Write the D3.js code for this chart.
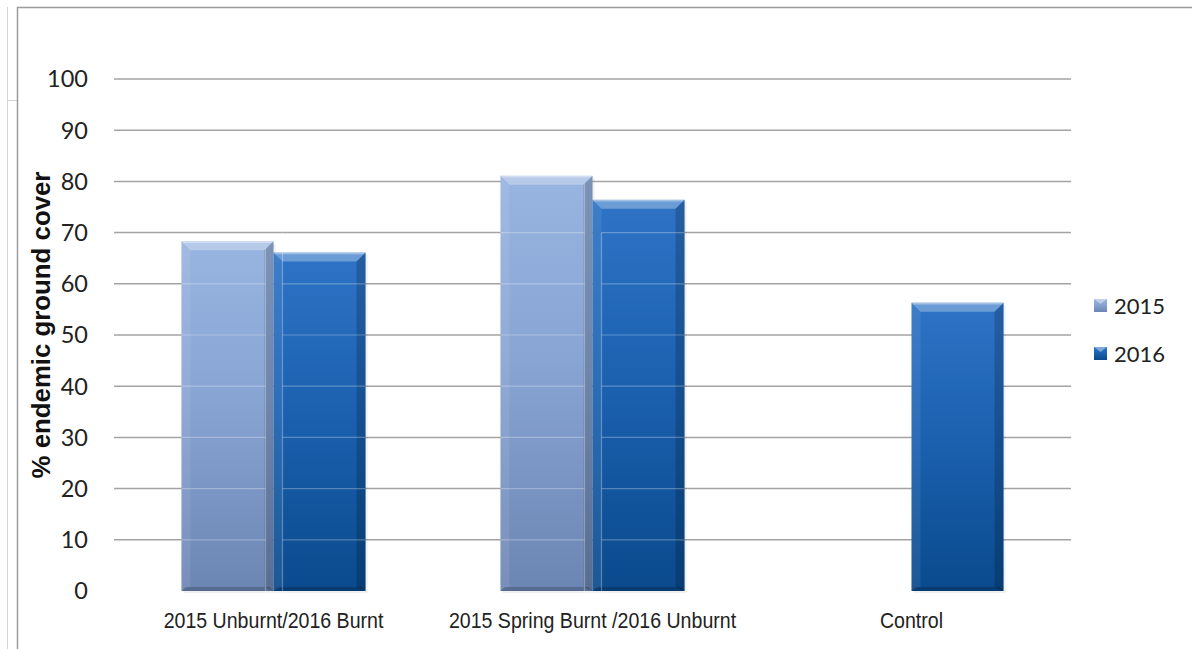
<!DOCTYPE html>
<html>
<head>
<meta charset="utf-8">
<script src="https://cdn.jsdelivr.net/npm/d3@7"></script>
<style>
  body { margin: 0; background: #fff; }
  svg { display: block; }
</style>
</head>
<body>
<svg width="1192" height="649"></svg>
<script>
const width = 1192;
const height = 649;

// data
const categories = ["2015 Unburnt/2016 Burnt", "2015 Spring Burnt /2016 Unburnt", "Control"];
const seriesNames = ["2015", "2016"];
const values2015 = [68.3, 81.1, null];
const values2016 = [66.1, 76.4, 56.3];
const yTicks = [0, 10, 20, 30, 40, 50, 60, 70, 80, 90, 100];

const svg = d3.select("svg")
    .attr("viewBox", [0, 0, width, height]);

const defs = svg.append("defs");

// gradients for the two series
const grads = {
    "2015": ["#98b4e0", "#88a4d3", "#6c86b3"],
    "2016": ["#2e73c5", "#1c62b1", "#0a4a8d"]
};
Object.entries(grads).forEach(([k, c]) => {
    const g = defs.append("linearGradient")
        .attr("id", "g" + k)
        .attr("x1", 0).attr("y1", 0).attr("x2", 0).attr("y2", 1);
    g.append("stop").attr("offset", "0%").attr("stop-color", c[0]);
    g.append("stop").attr("offset", "45%").attr("stop-color", c[1]);
    g.append("stop").attr("offset", "100%").attr("stop-color", c[2]);
});

// frame
svg.append("line").attr("x1", 7.5).attr("x2", 7.5).attr("y1", 7).attr("y2", height)
    .attr("stroke", "#d4d4d4").attr("stroke-width", 1);
svg.append("line").attr("x1", 7).attr("x2", 17).attr("y1", 100.5).attr("y2", 100.5)
    .attr("stroke", "#d4d4d4").attr("stroke-width", 1);
svg.append("line").attr("x1", 17.5).attr("x2", 17.5).attr("y1", 7).attr("y2", height)
    .attr("stroke", "#9c9c9c").attr("stroke-width", 1.5);
svg.append("line").attr("x1", 17).attr("x2", width).attr("y1", 7.5).attr("y2", 7.5)
    .attr("stroke", "#9c9c9c").attr("stroke-width", 1.5);

const x0 = d3.scaleBand()
    .domain(categories)
    .range([114, 1071])
    .paddingInner(0.423)
    .paddingOuter(0.2115);

const x1 = d3.scaleBand()
    .domain(seriesNames)
    .range([0, x0.bandwidth()]);

const y = d3.scaleLinear()
    .domain([0, 100])
    .range([591, 79]);

// gridlines
svg.append("g")
    .selectAll("line")
    .data(yTicks.slice(1))
    .join("line")
    .attr("x1", 114).attr("x2", 1071)
    .attr("y1", d => y(d)).attr("y2", d => y(d))
    .attr("stroke", "#a3a3a3")
    .attr("stroke-width", 1.5);

// y tick labels
svg.append("g")
    .selectAll("text")
    .data(yTicks)
    .join("text")
    .attr("x", 88)
    .attr("y", d => y(d))
    .attr("dy", "0.36em")
    .attr("text-anchor", "end")
    .attr("font-family", "Lato, 'Open Sans', sans-serif")
    .attr("font-size", 23.5)
    .attr("fill", "#222")
    .text(d => d);

// y axis title
svg.append("text")
    .attr("transform", "translate(50,325) rotate(-90)")
    .attr("text-anchor", "middle")
    .attr("font-family", "'Liberation Sans', Arial, sans-serif")
    .attr("font-weight", "bold")
    .attr("font-size", 25.8)
    .attr("fill", "#111")
    .text("% endemic ground cover");

// bar records
const bars = [];
categories.forEach((c, i) => {
    [values2015[i], values2016[i]].forEach((v, j) => {
        if (v == null) return;
        bars.push({
            cat: c, series: seriesNames[j], value: v,
            pair: values2015[i] != null && values2016[i] != null,
            x: x0(c) + x1(seriesNames[j]), w: x1.bandwidth(),
            top: y(v), bottom: y(0)
        });
    });
});

const bevel = 9;
const barG = svg.append("g");
bars.forEach(b => {
    const g = barG.append("g");
    const xl = b.x, xr = b.x + b.w, yt = b.top, yb = b.bottom;
    // soft shadow
    g.append("rect").attr("x", xl + 2).attr("y", yt + 2).attr("width", b.w).attr("height", yb - yt)
        .attr("fill", "#000").attr("opacity", 0.06);
    g.append("rect").attr("x", xl).attr("y", yt).attr("width", b.w).attr("height", yb - yt)
        .attr("fill", `url(#g${b.series})`);
    // bevels
    g.append("path")
        .attr("d", `M${xl},${yt}L${xr},${yt}L${xr - bevel},${yt + bevel}L${xl + bevel},${yt + bevel}Z`)
        .attr("fill", "#fff").attr("opacity", 0.3);
    g.append("line").attr("x1", xl + 1).attr("x2", xr - 1).attr("y1", yt + 1).attr("y2", yt + 1)
        .attr("stroke", "#fff").attr("stroke-opacity", 0.35).attr("stroke-width", 1.5);
    g.append("path")
        .attr("d", `M${xl},${yt}L${xl + bevel},${yt + bevel}L${xl + bevel},${yb - 4}L${xl},${yb}Z`)
        .attr("fill", "#fff").attr("opacity", 0.08);
    g.append("path")
        .attr("d", `M${xr},${yt}L${xr - bevel},${yt + bevel}L${xr - bevel},${yb - 4}L${xr},${yb}Z`)
        .attr("fill", "#000").attr("opacity", 0.18);
    g.append("path")
        .attr("d", `M${xl},${yb}L${xr},${yb}L${xr - 4},${yb - 4}L${xl + 4},${yb - 4}Z`)
        .attr("fill", "#000").attr("opacity", 0.2);
    // faint inner grid showing through paired bars
    if (b.pair) {
        const gx0 = b.series === "2015" ? xl : xl + 9;
        const gx1 = b.series === "2015" ? xr - 8 : xr;
        yTicks.filter(t => t > 0 && y(t) > yt + bevel).forEach(t => {
            g.append("line").attr("x1", gx0).attr("x2", gx1)
                .attr("y1", y(t)).attr("y2", y(t))
                .attr("stroke", "#fff").attr("stroke-opacity", 0.28).attr("stroke-width", 1.2);
        });
        const vx = b.series === "2015" ? xr - 8 : xl + 9;
        g.append("line").attr("x1", vx).attr("x2", vx)
            .attr("y1", b.series === "2015" ? yt + 8 : y(70)).attr("y2", yb + 3)
            .attr("stroke", "#fff").attr("stroke-opacity", 0.3).attr("stroke-width", 1.2);
    }
});

// category labels
svg.append("g")
    .selectAll("text")
    .data(categories)
    .join("text")
    .attr("transform", d => `translate(${x0(d) + x0.bandwidth() / 2},628) scale(0.89,1)`)
    .attr("text-anchor", "middle")
    .attr("font-family", "'Liberation Sans', Arial, sans-serif")
    .attr("font-size", 22)
    .attr("fill", "#222")
    .text(d => d);

// legend
const legend = svg.append("g")
    .selectAll("g")
    .data(seriesNames)
    .join("g")
    .attr("transform", (d, i) => `translate(1094,${299 + i * 48})`);
legend.append("rect")
    .attr("width", 13).attr("height", 13)
    .attr("fill", d => `url(#g${d})`);
legend.append("path")
    .attr("d", "M0,0L13,0L6.5,5Z")
    .attr("fill", "#fff").attr("opacity", 0.4);
legend.append("text")
    .attr("x", 20)
    .attr("y", 15)
    .attr("font-family", "Lato, 'Open Sans', sans-serif")
    .attr("font-size", 22)
    .attr("fill", "#222")
    .text(d => d);
</script>
</body>
</html>
